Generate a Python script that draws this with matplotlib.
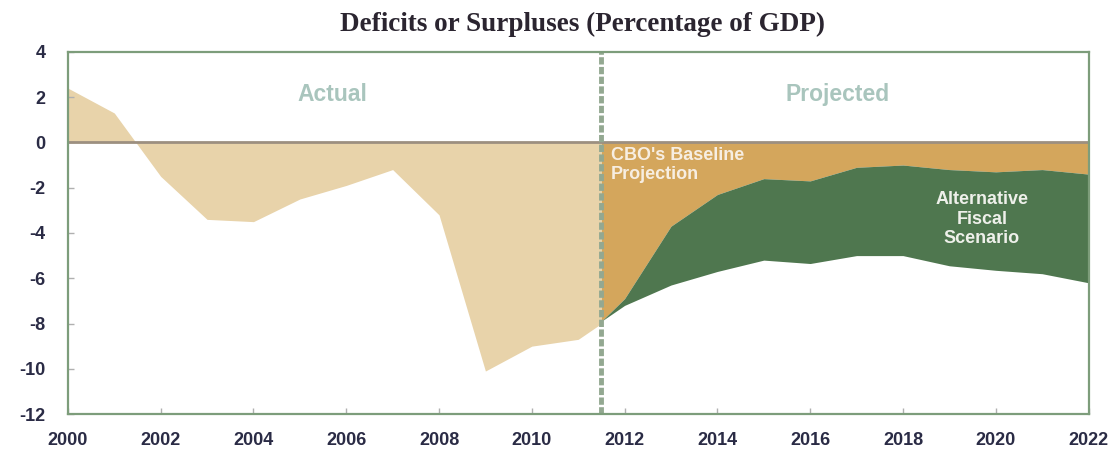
import numpy as np
import matplotlib.pyplot as plt

plt.rcParams['axes.unicode_minus'] = False

# Actual deficits/surpluses, % of GDP
actual_years = [2000, 2001, 2002, 2003, 2004, 2005, 2006, 2007, 2008, 2009, 2010, 2011, 2011.5]
actual_vals = [2.4, 1.3, -1.5, -3.4, -3.5, -2.5, -1.9, -1.2, -3.2, -10.1, -9.0, -8.7, -8.0]

# Projections
proj_years = [2011.5, 2012, 2013, 2014, 2015, 2016, 2017, 2018, 2019, 2020, 2021, 2022]
baseline = [-7.9, -6.9, -3.7, -2.3, -1.6, -1.7, -1.1, -1.0, -1.2, -1.3, -1.2, -1.4]
alternative = [-7.9, -7.2, -6.3, -5.7, -5.2, -5.35, -5.0, -5.0, -5.45, -5.65, -5.8, -6.2]

x_ticks = list(range(2000, 2023, 2))
y_ticks = list(range(-12, 5, 2))

sans = ['Liberation Sans', 'DejaVu Sans']

fig = plt.figure(figsize=(11.13, 4.55), dpi=100)
ax = fig.add_axes([0.061, 0.090, 0.917, 0.796])

ax.fill_between(actual_years, actual_vals, 0, color='#e8d3aa', lw=0)
ax.fill_between(proj_years, baseline, 0, color='#d4a65c', lw=0)
ax.fill_between(proj_years, alternative, baseline, color='#4f774f', lw=0)

ax.axhline(0, color='#9c8f80', lw=2)
ax.axvline(2011.5, color='#93a891', lw=3.5, ls=(0, (1.5, 0.5)))

ax.set_xlim(2000, 2022)
ax.set_ylim(-12, 4)
ax.set_xticks(x_ticks)
ax.set_yticks(y_ticks)

for s in ax.spines.values():
    s.set_color('#7d9d7b')
    s.set_linewidth(1.6)

ax.tick_params(direction='in', length=4, color='#b0b0b0', width=1)
for lab in ax.get_xticklabels() + ax.get_yticklabels():
    lab.set_family(sans)
    lab.set_fontweight('bold')
    lab.set_fontsize(13)
    lab.set_color('#2a2b45')
ax.tick_params(axis='y', pad=16)
ax.tick_params(axis='x', pad=13)

ax.text(2005.7, 2.1, 'Actual', ha='center', va='center', family=sans,
        fontweight='bold', fontsize=16.5, color='#a9c5bd')
ax.text(2016.6, 2.1, 'Projected', ha='center', va='center', family=sans,
        fontweight='bold', fontsize=16.5, color='#a9c5bd')
ax.text(2011.7, -1.0, "CBO's Baseline\nProjection", ha='left', va='center',
        family=sans, fontweight='bold', fontsize=13, color='#f7eee2',
        linespacing=1.1)
ax.text(2019.7, -3.4, 'Alternative\nFiscal\nScenario', ha='center', va='center',
        family=sans, fontweight='bold', fontsize=13, color='#eef0ea',
        linespacing=1.2)

fig.suptitle('Deficits or Surpluses (Percentage of GDP)', x=0.523, y=0.975,
             family='Liberation Serif', fontweight='bold', fontsize=19.5,
             color='#2b2530')

fig.savefig('out.png', dpi=100)
